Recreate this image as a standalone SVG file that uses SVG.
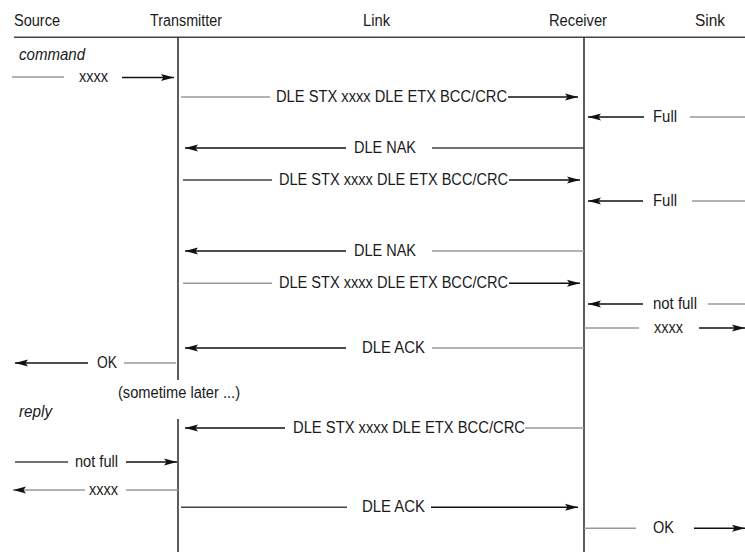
<svg xmlns="http://www.w3.org/2000/svg" width="745" height="552" viewBox="0 0 745 552">
<style>
text{font-family:"Liberation Sans",Arial,sans-serif;font-size:16px;fill:#1a1a1a}
.it{font-style:italic}
.life{stroke:#333;stroke-width:1.6;fill:none}
.g{stroke:#999;stroke-width:1.5;fill:none}
.d{stroke:#444;stroke-width:1.4;fill:none}
.a{stroke:#111;stroke-width:1.4;fill:none;marker-end:url(#ah)}
.ag{stroke:#999;stroke-width:1.5;fill:none;marker-end:url(#ah)}
</style>
<defs>
<marker id="ah" markerUnits="userSpaceOnUse" markerWidth="15" markerHeight="9" refX="13" refY="4" orient="auto">
<path d="M0,0.5 L13,4 L0,7.5 L2.5,4 z" fill="#111"/>
</marker>
</defs>
<rect width="745" height="552" fill="#fff"/>

<g id="header">
<line x1="14" y1="37.3" x2="745" y2="37.3" stroke="#444" stroke-width="1.6"/>
</g>
<g id="source"><text x="14" y="26" textLength="46" lengthAdjust="spacingAndGlyphs">Source</text></g>
<g id="transmitter">
<text x="150" y="26" textLength="72" lengthAdjust="spacingAndGlyphs">Transmitter</text>
<line class="life" x1="178" y1="37" x2="178" y2="380"/>
<line class="life" x1="178" y1="419" x2="178" y2="552"/>
</g>
<g id="link"><text x="363" y="26" textLength="27" lengthAdjust="spacingAndGlyphs">Link</text></g>
<g id="receiver">
<text x="549" y="26" textLength="58" lengthAdjust="spacingAndGlyphs">Receiver</text>
<line class="life" x1="584" y1="37" x2="584" y2="552"/>
</g>
<g id="sink"><text x="695" y="26" textLength="30" lengthAdjust="spacingAndGlyphs">Sink</text></g>

<g id="notes">
<text class="it" x="19" y="60" textLength="66" lengthAdjust="spacingAndGlyphs">command</text>
<text x="118" y="398" textLength="122" lengthAdjust="spacingAndGlyphs">(sometime later ...)</text>
<text class="it" x="19" y="417" textLength="33" lengthAdjust="spacingAndGlyphs">reply</text>
</g>

<g id="connectors">
<line class="g" x1="12" y1="77" x2="64" y2="77"/>
<text x="79" y="82" textLength="29" lengthAdjust="spacingAndGlyphs">xxxx</text>
<line class="a" x1="122" y1="77.5" x2="174" y2="77.5"/>

<line class="g" x1="181" y1="97" x2="270" y2="97"/>
<text x="276" y="102" textLength="231" lengthAdjust="spacingAndGlyphs">DLE STX xxxx DLE ETX BCC/CRC</text>
<line class="a" x1="508" y1="97" x2="578" y2="97"/>

<line class="a" x1="644" y1="117" x2="588" y2="117"/>
<text x="653" y="122" textLength="24" lengthAdjust="spacingAndGlyphs">Full</text>
<line class="g" x1="690" y1="117" x2="745" y2="117"/>

<line class="a" x1="346" y1="148" x2="185" y2="148"/>
<text x="354" y="153" textLength="62" lengthAdjust="spacingAndGlyphs">DLE NAK</text>
<line class="d" x1="432" y1="148" x2="584" y2="148"/>

<line class="d" x1="183" y1="180" x2="272" y2="180"/>
<text x="279" y="185" textLength="229" lengthAdjust="spacingAndGlyphs">DLE STX xxxx DLE ETX BCC/CRC</text>
<line class="a" x1="509" y1="180" x2="580" y2="180"/>

<line class="a" x1="643" y1="201" x2="588" y2="201"/>
<text x="653" y="206" textLength="24" lengthAdjust="spacingAndGlyphs">Full</text>
<line class="g" x1="692" y1="201" x2="745" y2="201"/>

<line class="a" x1="346" y1="251" x2="185" y2="251"/>
<text x="354" y="256" textLength="62" lengthAdjust="spacingAndGlyphs">DLE NAK</text>
<line class="g" x1="432" y1="251" x2="584" y2="251"/>

<line class="g" x1="183" y1="283.3" x2="272" y2="283.3"/>
<text x="279" y="288.3" textLength="229" lengthAdjust="spacingAndGlyphs">DLE STX xxxx DLE ETX BCC/CRC</text>
<line class="a" x1="509" y1="283.3" x2="580" y2="283.3"/>

<line class="a" x1="643" y1="304" x2="588" y2="304"/>
<text x="653" y="309" textLength="44" lengthAdjust="spacingAndGlyphs">not full</text>
<line class="g" x1="708" y1="304" x2="745" y2="304"/>

<line class="g" x1="584" y1="328" x2="639" y2="328"/>
<text x="654" y="333" textLength="29" lengthAdjust="spacingAndGlyphs">xxxx</text>
<line class="a" x1="699" y1="328" x2="745" y2="328"/>

<line class="a" x1="346" y1="348" x2="185" y2="348"/>
<text x="362" y="353" textLength="63" lengthAdjust="spacingAndGlyphs">DLE ACK</text>
<line class="g" x1="432" y1="348" x2="584" y2="348"/>

<line class="a" x1="88" y1="363" x2="15" y2="363"/>
<text x="97" y="368" textLength="20" lengthAdjust="spacingAndGlyphs">OK</text>
<line class="g" x1="124" y1="363" x2="176" y2="363"/>

<line class="a" x1="285" y1="428" x2="185" y2="428"/>
<text x="293" y="433" textLength="232" lengthAdjust="spacingAndGlyphs">DLE STX xxxx DLE ETX BCC/CRC</text>
<line class="g" x1="525" y1="428" x2="584" y2="428"/>

<line class="d" x1="15" y1="462" x2="68" y2="462"/>
<text x="75" y="467" textLength="43" lengthAdjust="spacingAndGlyphs">not full</text>
<line class="a" x1="126" y1="462" x2="177" y2="462"/>

<line class="ag" x1="85" y1="490" x2="13" y2="490"/>
<text x="89" y="495" textLength="29" lengthAdjust="spacingAndGlyphs">xxxx</text>
<line class="g" x1="126" y1="490" x2="178" y2="490"/>

<line class="d" x1="181" y1="507.3" x2="347" y2="507.3"/>
<text x="362" y="512.3" textLength="63" lengthAdjust="spacingAndGlyphs">DLE ACK</text>
<line class="a" x1="431" y1="507.3" x2="578" y2="507.3"/>

<line class="g" x1="584" y1="528.3" x2="636" y2="528.3"/>
<text x="653" y="533.3" textLength="21" lengthAdjust="spacingAndGlyphs">OK</text>
<line class="a" x1="694" y1="528.3" x2="745" y2="528.3"/>
</g>
</svg>
